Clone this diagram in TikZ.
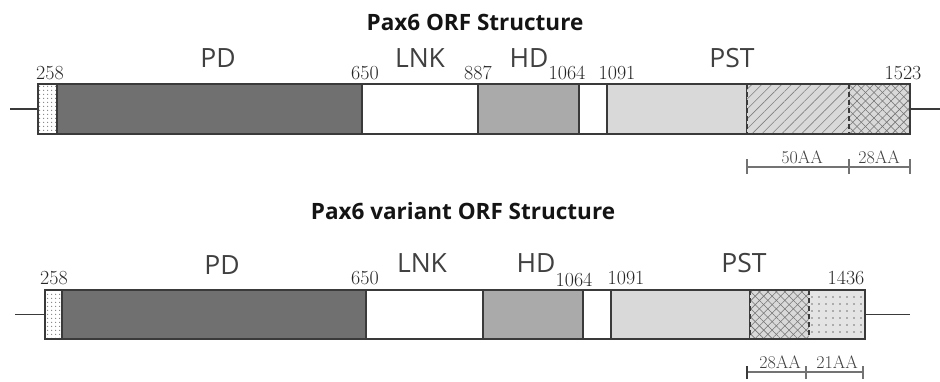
\documentclass[tikz,border=0pt]{standalone}
\usepackage{fontspec}
\newfontfamily\domfont{Open Sans}
\usetikzlibrary{patterns.meta}
\definecolor{pdgray}{HTML}{707070}
\definecolor{hdgray}{HTML}{AAAAAA}
\definecolor{pstgray}{HTML}{D9D9D9}
\definecolor{edge}{HTML}{3A3A3A}
\begin{document}
\begin{tikzpicture}[x=1pt,y=-1pt,
  seg/.style={rectangle, inner sep=0pt, outer sep=0pt, anchor=west, draw=edge, line width=1.2pt},
  nob/.style={rectangle, inner sep=0pt, outer sep=0pt, anchor=west, draw=none},
  stip/.style={fill=white, postaction={pattern={Dots[radius=0.8pt,distance=4pt]}, pattern color=black!50}},
  hatch/.style={fill=pstgray, postaction={pattern={Lines[angle=45,distance=7pt,line width=0.6pt]}, pattern color=black!50}},
  xhatch/.style={fill=pstgray, postaction={pattern={Lines[angle=45,distance=6pt,line width=0.6pt]}, pattern color=black!55},
                 postaction={pattern={Lines[angle=-45,distance=6pt,line width=0.6pt]}, pattern color=black!55}},
  dotted fill/.style={fill=pstgray!70, postaction={pattern={Dots[radius=0.8pt,distance=7pt]}, pattern color=black!55}},
  frame/.style={draw=edge, line width=2pt},
  sep/.style={draw=edge, line width=1.3pt, dashed, dash pattern=on 5pt off 3pt},
  wire/.style={draw=edge, line width=1.3pt},
  scl/.style={draw=black!55, line width=1.3pt},
  num/.style={font=\fontsize{20}{20}\selectfont, text=black!85, inner sep=0pt},
  dom/.style={font=\domfont\fontsize{26.5}{26.5}\selectfont, text=black!75, inner sep=0pt},
  ttl/.style={font=\domfont\bfseries\fontsize{22.5}{22.5}\selectfont, text=black!92, inner sep=0pt},
  aa/.style={font=\fontsize{18}{18}\selectfont, text=black!75, inner sep=0pt},
]
\useasboundingbox (0,0) rectangle (940,381);

% ---------------- top: Pax6 ORF ----------------
\node[ttl] (t1) at (475,22) {Pax6 ORF Structure};

\node[seg, stip, minimum width=19pt, minimum height=50pt] (a0) at (38,109) {};
\node[seg, fill=pdgray, minimum width=305pt, minimum height=50pt] (apd) at (57,109) {};
\node[seg, fill=white, minimum width=116pt, minimum height=50pt] (alnk) at (362,109) {};
\node[seg, fill=hdgray, minimum width=101pt, minimum height=50pt] (ahd) at (478,109) {};
\node[seg, fill=white, minimum width=28pt, minimum height=50pt] (agap) at (579,109) {};
\node[seg, fill=pstgray, minimum width=140pt, minimum height=50pt] (apst) at (607,109) {};
\node[nob, hatch, minimum width=102pt, minimum height=50pt] (a50) at (747,109) {};
\node[nob, xhatch, minimum width=61pt, minimum height=50pt] (a28) at (849,109) {};
\draw[sep] (a50.north west) -- (a50.south west);
\draw[sep] (a28.north west) -- (a28.south west);
\draw[frame] (a0.north west) rectangle (a28.south east);
\coordinate (aL) at (10,109);
\coordinate (aR) at (940,109);
\draw[wire] (aL) -- (a0.west);
\draw[wire] (a28.east) -- (aR);

\node[dom] at (218,58) {PD};
\node[dom] at (420,58) {LNK};
\node[dom] at (529,58) {HD};
\node[dom] at (732,58) {PST};
\node[num] at (50,73) {258};
\node[num] at (365,73) {650};
\node[num] at (478,73) {887};
\node[num] at (567,73) {1064};
\node[num] at (617,73) {1091};
\node[num] at (903,73) {1523};

\coordinate (s1) at (747,167);
\coordinate (s2) at (849,167);
\coordinate (s3) at (910,167);
\draw[scl] (s1) -- (s3);
\foreach \p in {s1,s2,s3} \draw[scl] ([yshift=-7pt]\p) -- ([yshift=8pt]\p);
\node[aa] at (802,157) {50AA};
\node[aa] at (879,157) {28AA};

% ---------------- bottom: Pax6 variant ORF ----------------
\node[ttl] (t2) at (463,211) {Pax6 variant ORF Structure};

\node[seg, stip, minimum width=17pt, minimum height=49pt] (b0) at (45,314.5) {};
\node[seg, fill=pdgray, minimum width=304pt, minimum height=49pt] (bpd) at (62,314.5) {};
\node[seg, fill=white, minimum width=117pt, minimum height=49pt] (blnk) at (366,314.5) {};
\node[seg, fill=hdgray, minimum width=100pt, minimum height=49pt] (bhd) at (483,314.5) {};
\node[seg, fill=white, minimum width=28pt, minimum height=49pt] (bgap) at (583,314.5) {};
\node[seg, fill=pstgray, minimum width=139pt, minimum height=49pt] (bpst) at (611,314.5) {};
\node[nob, xhatch, minimum width=59pt, minimum height=49pt] (b28) at (750,314.5) {};
\node[nob, dotted fill, minimum width=56pt, minimum height=49pt] (b21) at (809,314.5) {};
\draw[sep] (b28.north west) -- (b28.south west);
\draw[sep] (b21.north west) -- (b21.south west);
\draw[frame] (b0.north west) rectangle (b21.south east);
\coordinate (bL) at (15,314.5);
\coordinate (bR) at (910,314.5);
\draw[wire] (bL) -- (b0.west);
\draw[wire] (b21.east) -- (bR);

\node[dom] at (222,265) {PD};
\node[dom] at (422,263) {LNK};
\node[dom] at (536,263) {HD};
\node[dom] at (744,263) {PST};
\node[num] at (54,278) {258};
\node[num] at (365,278) {650};
\node[num] at (574,280) {1064};
\node[num] at (626,278) {1091};
\node[num] at (846,278) {1436};

\coordinate (r1) at (747,372);
\coordinate (r2) at (806,372);
\coordinate (r3) at (863,372);
\draw[scl] (r1) -- (r3);
\draw[draw=edge, line width=2.2pt] ([yshift=-7pt]r1) -- ([yshift=6pt]r1);
\foreach \p in {r2,r3} \draw[scl] ([yshift=-7pt]\p) -- ([yshift=6pt]\p);
\node[aa] at (780,362) {28AA};
\node[aa] at (837,362) {21AA};
\end{tikzpicture}
\end{document}
